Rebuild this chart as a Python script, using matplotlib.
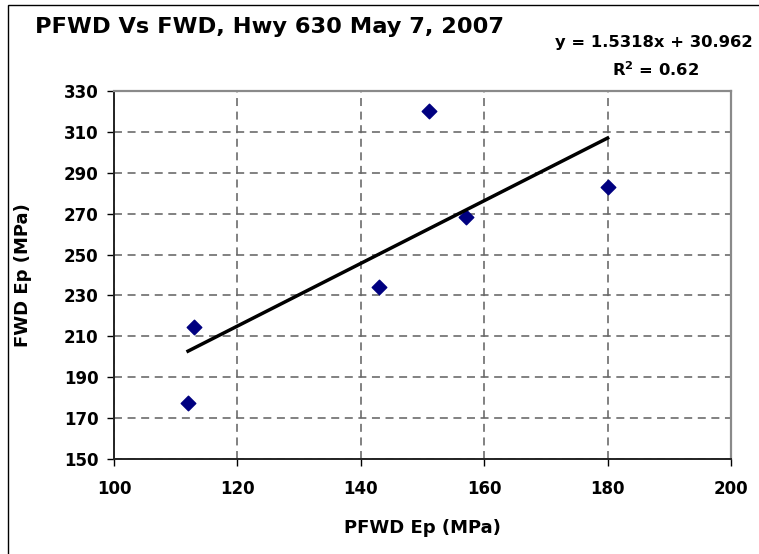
import numpy as np
import matplotlib
matplotlib.use("Agg")
import matplotlib.pyplot as plt
from matplotlib.patches import Rectangle

# Data
pfwd = [112, 113, 143, 151, 157, 180]
fwd = [177.6, 214.8, 234.3, 320.2, 268.5, 283.2]
x_ticks = [100, 120, 140, 160, 180, 200]
y_ticks = [150, 170, 190, 210, 230, 250, 270, 290, 310, 330]
title = "PFWD Vs FWD, Hwy 630 May 7, 2007"
eq_text = "y = 1.5318x + 30.962"
r2_text = "R$^2$ = 0.62"
xlabel = "PFWD Ep (MPa)"
ylabel = "FWD Ep (MPa)"

plt.rcParams['font.family'] = ['DejaVu Sans']
plt.rcParams['font.weight'] = 'bold'
plt.rcParams['mathtext.default'] = 'bf'

W, H = 759, 554
fig = plt.figure(figsize=(W / 100, H / 100), dpi=100)
fig.patch.set_facecolor('white')

# Outer chart border (only top and left visible in the reference)
fig.patches.append(Rectangle((7.5 / W, -0.05), 1.2, 1 - 4.5 / H + 0.05,
                             transform=fig.transFigure, fill=False,
                             edgecolor='black', linewidth=1.0))

ax = fig.add_axes([114 / W, 1 - 459 / H, (731 - 114) / W, (459 - 91) / H])
ax.set_xlim(100, 200)
ax.set_ylim(150, 330)
ax.set_xticks(x_ticks)
ax.set_yticks(y_ticks)
ax.grid(True, color='#666666', linestyle=(0, (5, 3.5)), linewidth=1.15)
ax.set_axisbelow(True)

for s in ['left', 'bottom']:
    ax.spines[s].set_color('#222222')
    ax.spines[s].set_linewidth(1.4)
for s in ['top', 'right']:
    ax.spines[s].set_color('#8a8a8a')
    ax.spines[s].set_linewidth(1.6)

ax.tick_params(axis='both', direction='out', length=5, width=1, colors='black',
               labelsize=12, pad=6)
ax.tick_params(axis='x', pad=10)
for lbl in ax.get_xticklabels() + ax.get_yticklabels():
    lbl.set_fontweight('bold')

ax.scatter(pfwd, fwd, marker='D', s=55, color='#000080', zorder=3)

coef = np.polyfit(pfwd, fwd, 1)
xs = np.array([min(pfwd), max(pfwd)])
ax.plot(xs, np.polyval(coef, xs), color='black', linewidth=2.5, zorder=4)

ax.set_xlabel(xlabel, fontsize=13, fontweight='bold', va='center')
ax.set_ylabel(ylabel, fontsize=13, fontweight='bold', va='center')
ax.xaxis.set_label_coords(0.5, (459 - 528) / 368)
ax.yaxis.set_label_coords((23 - 114) / 617, 0.5)

fig.text(35 / W, 1 - 27 / H, title, fontsize=16.2, fontweight='bold',
         ha='left', va='center')
fig.text(753 / W, 1 - 42 / H, eq_text, fontsize=11.8, fontweight='bold',
         ha='right', va='center')
fig.text(656 / W, 1 - 70 / H, r2_text, fontsize=11.8, fontweight='bold',
         ha='center', va='center')

fig.savefig('out.png', dpi=100, facecolor='white')
